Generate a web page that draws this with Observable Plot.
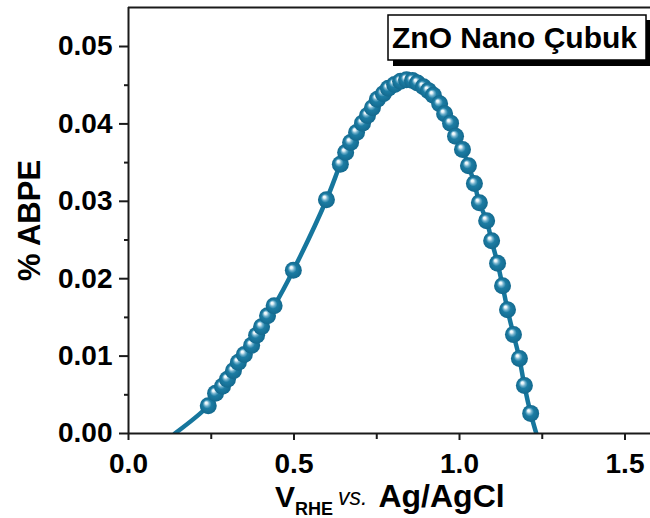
<!DOCTYPE html>
<html>
<head>
<meta charset="utf-8">
<script src="https://cdn.jsdelivr.net/npm/d3@7"></script>
<script src="https://cdn.jsdelivr.net/npm/@observablehq/plot@0.6"></script>
<style>
  html, body { margin: 0; padding: 0; background: #fff; }
  #chart svg { display: block; }
</style>
</head>
<body>
<div id="chart"></div>
<script>
// ---- data ----
const voltage = [0.241, 0.263, 0.284, 0.299, 0.317, 0.332, 0.350, 0.372, 0.387, 0.402, 0.420, 0.440,
  0.498, 0.598, 0.640, 0.656, 0.671, 0.689, 0.707, 0.722, 0.737, 0.752, 0.770, 0.785, 0.804, 0.822,
  0.840, 0.858, 0.873, 0.891, 0.906, 0.921, 0.940, 0.955, 0.973, 0.988, 1.009, 1.027, 1.045, 1.060,
  1.082, 1.097, 1.115, 1.130, 1.145, 1.163, 1.181, 1.196, 1.215];
const abpe = [0.0036, 0.0052, 0.0061, 0.0070, 0.0081, 0.0092, 0.0102, 0.0114, 0.0127, 0.0138, 0.0152, 0.0165,
  0.0211, 0.0302, 0.0348, 0.0363, 0.0376, 0.0389, 0.0401, 0.0411, 0.0421, 0.0432, 0.0439, 0.0446, 0.0451, 0.0455,
  0.0457, 0.0456, 0.0453, 0.0448, 0.0443, 0.0437, 0.0426, 0.0413, 0.0401, 0.0384, 0.0367, 0.0346, 0.0323, 0.0298,
  0.0275, 0.0249, 0.0220, 0.0191, 0.0160, 0.0128, 0.0097, 0.0062, 0.0026];
// fitted line reaches the axis at these voltages
const lineStart = [0.140, 0];
const lineEnd = [1.232, 0];

const xMajor = [0, 0.5, 1.0, 1.5];
const xMinor = [0.25, 0.75, 1.25];
const yMajor = [0, 0.01, 0.02, 0.03, 0.04, 0.05];
const yMinor = [0.005, 0.015, 0.025, 0.035, 0.045];
const seriesLabel = "ZnO Nano Çubuk";
const yLabel = "% ABPE";

const points = voltage.map((v, i) => ({v, a: abpe[i]}));
const linePts = [{v: lineStart[0], a: lineStart[1]}, ...points, {v: lineEnd[0], a: lineEnd[1]}];

const blue = "#16769d";
const axisColor = "#1a1a1a";
const font = "'Liberation Sans', Arial, sans-serif";

const chart = Plot.plot({
  width: 650,
  height: 518,
  marginLeft: 128,
  marginTop: 7,
  marginBottom: 85,
  marginRight: 0,
  style: {fontFamily: font, fontWeight: "bold", color: "#000", background: "#fff"},
  x: {domain: [0, 1.577]},
  y: {domain: [0, 0.05504]},
  marks: [
    Plot.line(linePts, {x: "v", y: "a", stroke: blue, strokeWidth: 4.5, curve: "catmull-rom", clip: true}),
    Plot.dot(points, {x: "v", y: "a", r: 8.5, fill: "url(#ball)", stroke: "none"}),
    Plot.ruleX([0], {stroke: axisColor, strokeWidth: 2}),
    Plot.ruleY([0], {stroke: axisColor, strokeWidth: 2}),
    Plot.ruleY([0.05504], {stroke: axisColor, strokeWidth: 2}),
    Plot.axisY({ticks: yMajor, tickFormat: d3.format(".2f"), tickSize: 9, tickPadding: 7,
      fontSize: 28, label: null, stroke: axisColor, strokeWidth: 2, fill: "#000"}),
    Plot.axisY({ticks: yMinor, tickFormat: () => "", tickSize: 4, label: null, stroke: axisColor, strokeWidth: 2}),
    Plot.axisX({ticks: xMajor, tickFormat: d3.format(".1f"), tickSize: 7, tickPadding: 13,
      fontSize: 28, label: null, stroke: axisColor, strokeWidth: 2, fill: "#000"}),
    Plot.axisX({ticks: xMinor, tickFormat: () => "", tickSize: 6, label: null, stroke: axisColor, strokeWidth: 2}),
    Plot.text([yLabel], {frameAnchor: "left", dx: -98, rotate: -90, textAnchor: "middle", lineAnchor: "middle",
      fontSize: 31, fontWeight: "bold", fill: "#000"})
  ]
});

const svg = d3.select(chart);
// ball gradient
const grad = svg.insert("defs", ":first-child").append("radialGradient")
  .attr("id", "ball").attr("cx", "0.5").attr("cy", "0.5").attr("r", "0.5")
  .attr("fx", "0.36").attr("fy", "0.32");
[[0, "#ffffff"], [0.14, "#e6f3f8"], [0.32, "#6fb0cc"], [0.52, "#1c7ca3"], [1, "#13698e"]]
  .forEach(([o, c]) => grad.append("stop").attr("offset", o).attr("stop-color", c));

// legend box with drop shadow
const lg = svg.append("g");
lg.append("rect").attr("x", 393).attr("y", 20).attr("width", 270).attr("height", 46).attr("fill", "#000");
lg.append("rect").attr("x", 388).attr("y", 15).attr("width", 258).attr("height", 45)
  .attr("fill", "#fff").attr("stroke", "#000").attr("stroke-width", 1.5);
lg.append("text").attr("x", 392).attr("y", 48).attr("font-size", 30).attr("font-weight", "bold")
  .attr("text-anchor", "start").attr("font-family", font).attr("fill", "#000").text(seriesLabel);

// x-axis label: V_RHE vs. Ag/AgCl
const xl = svg.append("text").attr("x", 275).attr("y", 507).attr("text-anchor", "start")
  .attr("font-family", font).attr("fill", "#000");
xl.append("tspan").attr("font-size", 30).attr("font-weight", "bold").text("V");
xl.append("tspan").attr("font-size", 18).attr("font-weight", "bold").attr("dy", 8).text("RHE");
xl.append("tspan").attr("font-size", 23).attr("font-weight", "normal").attr("font-style", "italic")
  .attr("dy", -10).attr("dx", 5).text("vs.");
xl.append("tspan").attr("font-size", 32).attr("font-weight", "bold").attr("dy", 2).attr("dx", 11).text("Ag/AgCl");

document.getElementById("chart").appendChild(chart);
</script>
</body>
</html>
